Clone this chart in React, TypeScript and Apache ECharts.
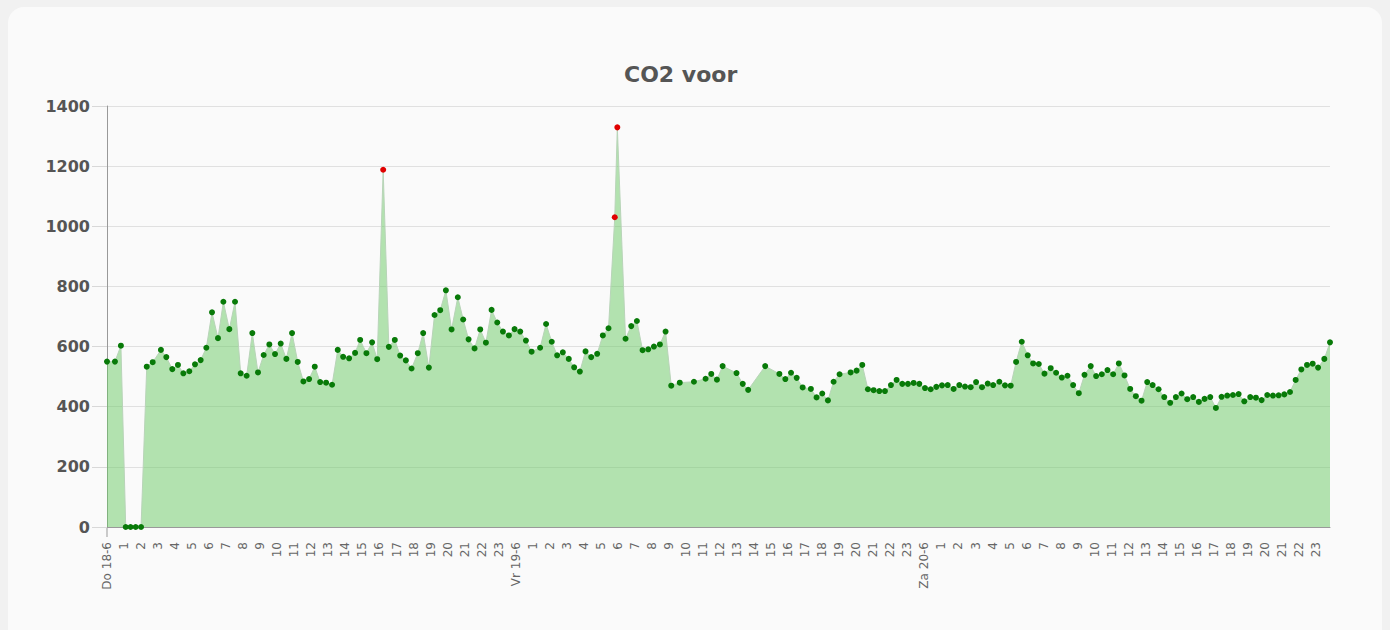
import React, { useEffect, useRef } from "react";
import * as echarts from "echarts";

const TITLE = "CO2 voor";
const DAY_LABELS: Record<number, string> = { 0: "Do 18-6", 24: "Vr 19-6", 48: "Za 20-6" };
const Y_TICKS = [0, 200, 400, 600, 800, 1000, 1200, 1400];
const ALERT_LEVEL = 1000;

// minutes since Do 18-6 00:00
const minutes = [
  0, 28, 49, 66, 83, 101, 120, 140, 161, 190, 209, 230, 250, 269, 290, 310, 330, 350, 370, 391, 410, 431, 451, 471, 492, 512, 532, 552, 572, 592,
  612, 632, 652, 672, 692, 712, 732, 751, 772, 793, 813, 832, 853, 874, 892, 914, 934, 952, 973, 993, 1014, 1033, 1053, 1073, 1095, 1114, 1134, 1154, 1174, 1194,
  1214, 1236, 1255, 1274, 1295, 1315, 1335, 1355, 1375, 1395, 1416, 1436, 1456, 1476, 1496, 1526, 1547, 1567, 1586, 1606, 1627, 1646, 1666, 1686, 1706, 1727, 1747, 1767, 1789, 1798, 1827,
  1847, 1867, 1887, 1907, 1927, 1948, 1968, 1988, 2018, 2068, 2109, 2129, 2149, 2169, 2218, 2240, 2259, 2319, 2369, 2390, 2410, 2430,
  2451, 2480, 2500, 2520, 2540, 2560, 2581, 2620, 2641, 2661, 2681, 2701, 2721, 2741, 2762, 2782, 2802, 2822, 2842, 2862, 2882, 2902, 2922, 2942, 2962, 2983, 3003, 3023, 3043,
  3062, 3083, 3103, 3122, 3144, 3164, 3184, 3203, 3223, 3244, 3263, 3283, 3303, 3325, 3344, 3364, 3384, 3404, 3424, 3444, 3466, 3485, 3505, 3525, 3545, 3565, 3585, 3605, 3625, 3645, 3665,
  3684, 3705, 3725, 3746, 3766, 3786, 3806, 3827, 3847, 3867, 3887, 3907, 3927, 3947, 3967, 3987, 4007, 4028, 4048, 4068, 4088, 4108, 4128, 4148, 4168, 4188, 4208, 4228, 4248, 4267, 4289, 4309,
];

const co2 = [
  550, 550, 603, 0, 0, 0, 0, 533, 548, 589, 565, 525, 539, 511, 518, 541, 555, 596, 714, 628, 749, 658, 749, 511, 503, 645, 514, 572, 607, 575,
  610, 559, 645, 549, 484, 492, 533, 482, 480, 473, 589, 566, 561, 579, 622, 578, 614, 558, 1188, 599, 622, 570, 554, 527, 578, 645, 530, 705, 721, 787,
  657, 764, 690, 624, 594, 657, 613, 722, 680, 650, 637, 658, 650, 620, 583, 596, 675, 616, 571, 581, 559, 531, 517, 584, 565, 576, 637, 661, 1030, 1329, 626,
  668, 685, 588, 591, 600, 607, 650, 470, 480, 483, 493, 509, 490, 535, 512, 476, 456, 535, 509, 492, 513, 496,
  464, 459, 431, 444, 421, 483, 508, 514, 520, 539, 458, 455, 452, 452, 472, 489, 476, 476, 479, 476, 462, 458, 466, 471, 472, 459, 472, 467, 465,
  482, 465, 477, 472, 483, 471, 470, 549, 616, 571, 544, 542, 510, 528, 513, 497, 503, 472, 445, 506, 535, 502, 508, 522, 508, 544, 504, 459, 435, 420, 482,
  472, 458, 432, 413, 432, 444, 425, 432, 416, 426, 432, 396, 433, 437, 439, 442, 418, 432, 430, 422, 439, 437, 438, 441, 449, 489, 524, 539, 543, 530, 559, 614,
];

export default function App() {
  const ref = useRef<HTMLDivElement>(null);

  useEffect(() => {
    if (!ref.current) return;
    const chart = echarts.init(ref.current, undefined, { renderer: "svg" });
    const data = minutes.map((m, i) => [m / 60, co2[i]]);
    chart.setOption({
      animation: false,
      backgroundColor: "transparent",
      title: {
        text: TITLE,
        left: 616,
        top: 56,
        padding: 0,
        textStyle: { fontFamily: "DejaVu Sans", fontWeight: "bold", fontSize: 22, color: "#555" },
      },
      grid: { left: 99, right: 52, top: 99, bottom: 103, containLabel: false },
      xAxis: {
        type: "value",
        min: 0,
        max: "dataMax",
        interval: 1,
        splitLine: { show: false },
        axisTick: { show: false },
        axisLine: { show: true, onZero: false, lineStyle: { color: "#999", width: 1 } },
        axisLabel: {
          rotate: 90,
          margin: 15,
          showMaxLabel: false,
          fontFamily: "DejaVu Sans",
          fontSize: 12,
          color: "#666",
          formatter: (v: number) => {
            if (Math.abs(v - Math.round(v)) > 1e-6) return "";
            const h = Math.round(v);
            if (DAY_LABELS[h] !== undefined) return DAY_LABELS[h];
            return String(h % 24);
          },
        },
      },
      yAxis: {
        type: "value",
        min: Y_TICKS[0],
        max: Y_TICKS[Y_TICKS.length - 1],
        interval: 200,
        axisLine: { show: true, lineStyle: { color: "#999", width: 1 } },
        axisTick: { show: true, length: 15, lineStyle: { color: "#d8d8d8" } },
        splitLine: { show: true, lineStyle: { color: "#e0e0e0", width: 1 } },
        axisLabel: {
          margin: 17,
          fontFamily: "DejaVu Sans",
          fontWeight: "bold",
          fontSize: 16,
          color: "#555",
          formatter: (v: number) => String(v),
        },
      },
      series: [
        {
          type: "line",
          data,
          symbol: "circle",
          symbolSize: 6,
          showSymbol: true,
          showAllSymbol: true,
          lineStyle: { color: "#b8d4b8", width: 1 },
          areaStyle: { color: "rgb(105,202,100)", opacity: 0.5 },
          itemStyle: {
            color: (p: any) => (p.value[1] >= ALERT_LEVEL ? "#e00000" : "#087a08"),
            borderWidth: 0,
          },
          z: 3,
        },
      ],
    });
    // extend the y axis line slightly below the x axis, as in the reference
    const p0 = chart.convertToPixel({ gridIndex: 0 }, [0, 0]) as number[];
    chart.setOption({
      graphic: [
        {
          type: "line",
          shape: { x1: p0[0], y1: p0[1], x2: p0[0], y2: p0[1] + 10 },
          style: { stroke: "#999", lineWidth: 1 },
        },
      ],
    });
    return () => chart.dispose();
  }, []);

  return (
    <div style={{ position: "fixed", inset: 0, background: "#f1f1f1" }}>
      <div
        style={{
          position: "absolute",
          left: 8,
          top: 7,
          width: 1374,
          height: 640,
          borderRadius: 16,
          background: "#fafafa",
        }}
      >
        <div ref={ref} style={{ width: 1374, height: 623 }} />
      </div>
    </div>
  );
}
